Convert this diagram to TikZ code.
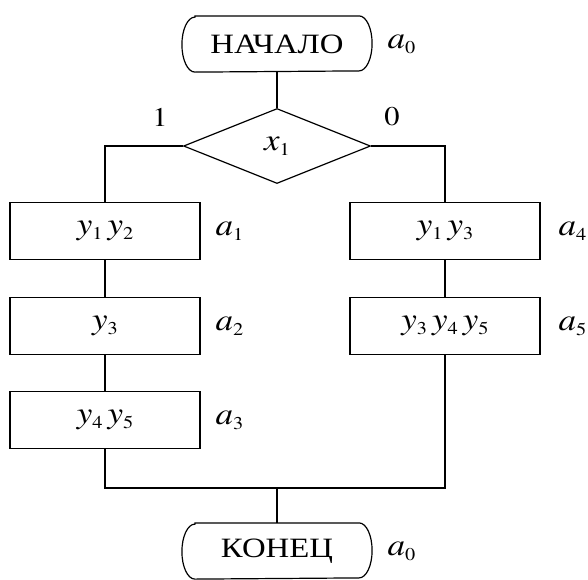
\documentclass[tikz,border=0pt]{standalone}
\usepackage{fontspec}
\setmainfont{TeX Gyre Termes}[FakeStretch=1.13]
\newfontfamily\cyr{Liberation Serif}[FakeStretch=1.17]
\usetikzlibrary{shapes.geometric}

\newcommand{\vr}[2]{{\fontsize{31}{32}\selectfont\itshape #1}\raisebox{-5pt}{\fontsize{18}{20}\selectfont #2}}

\begin{document}
\begin{tikzpicture}[x=1pt, y=-1pt, line width=1.2pt,
  term/.style={minimum width=189pt, minimum height=55pt, font=\cyr\fontsize{28}{30}\selectfont},
  oper/.style={draw, minimum width=190pt, minimum height=57pt, inner sep=0pt},
  cond/.style={draw, diamond, aspect=2.5, minimum width=187pt, minimum height=75pt, inner sep=0pt},
  stl/.style={anchor=west, inner sep=0pt},
  bit/.style={font=\fontsize{27}{29}\selectfont, inner sep=0pt}]
\useasboundingbox (0,0) rectangle (588,579);
% Вершины
\node[term] (beg) at (277,44) {НАЧАЛО};
\node[stl] (a0b) at (387,44) {\vr{a}{0}};
\node[cond] (x1) at (277,146) {\vr{x}{1}};
\node[bit] (one) at (160,117) {1};
\node[bit] (zero) at (392,117) {0};
\node[oper] (b1) at (105,231) {\vr{y}{1}\kern5pt\vr{y}{2}};
\node[oper] (b2) at (105,326) {\vr{y}{3}};
\node[oper] (b3) at (105,420) {\vr{y}{4}\kern5pt\vr{y}{5}};
\node[oper] (b4) at (445,231) {\vr{y}{1}\kern5pt\vr{y}{3}};
\node[oper] (b5) at (445,326) {\vr{y}{3}\kern5pt\vr{y}{4}\kern5pt\vr{y}{5}};
\node[stl] (a1) at (215,231) {\vr{a}{1}};
\node[stl] (a2) at (215,326) {\vr{a}{2}};
\node[stl] (a3) at (215,420) {\vr{a}{3}};
\node[stl] (a4) at (558,231) {\vr{a}{4}};
\node[stl] (a5) at (558,326) {\vr{a}{5}};
\coordinate (j) at (277,488);
\node[term] (fin) at (277,551) {КОНЕЦ};
\node[stl] (a0e) at (387,551) {\vr{a}{0}};

% Рамки терминаторов
\foreach \t in {beg,fin}
  \draw ([xshift=13pt]\t.north west) -- ([xshift=-13pt]\t.north east)
    arc[start angle=90, end angle=-90, x radius=13pt, y radius=27.5pt]
    -- ([xshift=13pt]\t.south west)
    arc[start angle=270, end angle=90, x radius=13pt, y radius=27.5pt] -- cycle;

% Связи
\draw (beg) -- (x1);
\draw (x1.west) -| (b1.north);
\draw (x1.east) -| (b4.north);
\draw (b1) -- (b2);
\draw (b2) -- (b3);
\draw (b4) -- (b5);
\draw (b3.south) |- (j) -| (b5.south);
\draw (j) -- (fin);
\end{tikzpicture}
\end{document}
